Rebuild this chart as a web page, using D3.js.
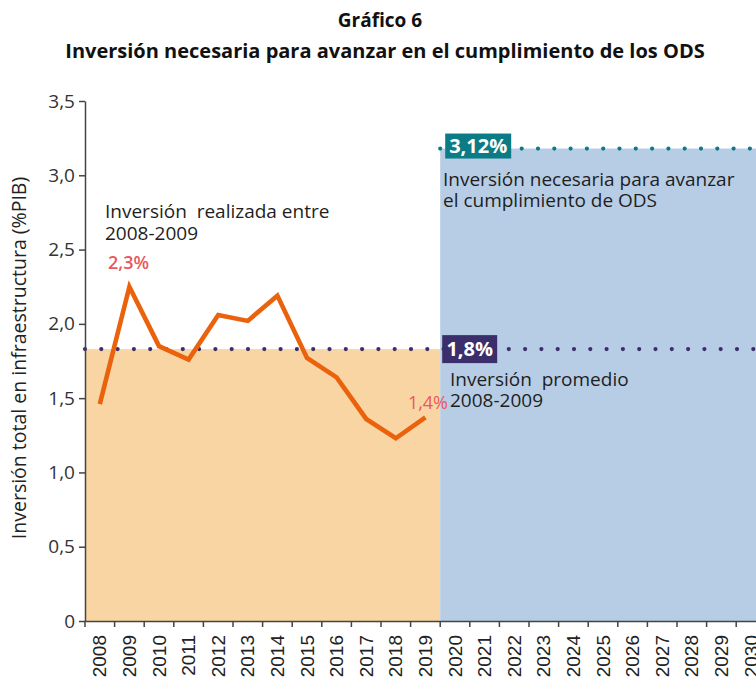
<!DOCTYPE html>
<html>
<head>
<meta charset="utf-8">
<script src="https://cdn.jsdelivr.net/npm/d3@7"></script>
<style>
  body { margin: 0; background: #fff; }
  svg { display: block; }
</style>
</head>
<body>
<svg id="chart" width="756" height="682"></svg>
<script>
// categories (x axis)
var years = ["2008", "2009", "2010", "2011", "2012", "2013", "2014", "2015",
             "2016", "2017", "2018", "2019", "2020", "2021", "2022", "2023",
             "2024", "2025", "2026", "2027", "2028", "2029", "2030"];
// observed investment 2008-2019 (% PIB)
var histYears = ["2008", "2009", "2010", "2011", "2012", "2013", "2014", "2015",
                 "2016", "2017", "2018", "2019"];
var investment = [1.46, 2.25, 1.85, 1.76, 2.06, 2.02, 2.19, 1.77, 1.64, 1.36, 1.23, 1.37];
// reference levels
var averageValue = 1.83;
var averageLabel = "1,8%";
var neededValue = 3.18;
var neededLabel = "3,12%";
var futureYears = ["2020", "2030"];
// y ticks
var yTicks = [0, 0.5, 1, 1.5, 2, 2.5, 3, 3.5];
var yTickLabels = ["0", "0,5", "1,0", "1,5", "2,0", "2,5", "3,0", "3,5"];

var svg = d3.select("#chart");
var font = "'Open Sans', 'Noto Sans', sans-serif";

var x = d3.scaleBand()
  .domain(years)
  .range([85, 85 + 23 * 29.6])
  .padding(0);
var y = d3.scaleLinear()
  .domain([0, 3.5])
  .range([621, 101]);

// title
svg.append("text")
  .attr("x", 380).attr("y", 27)
  .attr("text-anchor", "middle")
  .style("font-family", font).style("font-weight", "bold").style("font-size", "19px")
  .attr("fill", "#111")
  .text("Gráfico 6");
svg.append("text")
  .attr("x", 385).attr("y", 58)
  .attr("text-anchor", "middle")
  .style("font-family", font).style("font-weight", "bold").style("font-size", "20px")
  .attr("fill", "#111")
  .text("Inversión necesaria para avanzar en el cumplimiento de los ODS");

// shaded areas
svg.append("rect")
  .attr("x", x(histYears[0]))
  .attr("y", y(averageValue))
  .attr("width", x(futureYears[0]) - x(histYears[0]))
  .attr("height", y(0) - y(averageValue))
  .attr("fill", "#f9d5a4");
svg.append("rect")
  .attr("x", x(futureYears[0]))
  .attr("y", y(neededValue))
  .attr("width", x(futureYears[1]) + x.bandwidth() - x(futureYears[0]))
  .attr("height", y(0) - y(neededValue))
  .attr("fill", "#b7cde6");

// dotted reference lines
svg.append("line")
  .attr("x1", x(histYears[0])).attr("x2", 770)
  .attr("y1", y(averageValue)).attr("y2", y(averageValue))
  .attr("stroke", "#3b2f6b").attr("stroke-width", 4.2)
  .attr("stroke-linecap", "round").attr("stroke-dasharray", "0 16.3");
svg.append("line")
  .attr("x1", x(futureYears[0])).attr("x2", 770)
  .attr("y1", y(neededValue)).attr("y2", y(neededValue))
  .attr("stroke", "#0b7c86").attr("stroke-width", 4.2)
  .attr("stroke-linecap", "round").attr("stroke-dasharray", "0 16.3");

// investment line
var line = d3.line()
  .x(function(d, i) { return x(histYears[i]) + x.bandwidth() / 2; })
  .y(function(d) { return y(d); });
svg.append("path")
  .datum(investment)
  .attr("d", line)
  .attr("fill", "none")
  .attr("stroke", "#eb620d")
  .attr("stroke-width", 4.6)
  .attr("stroke-linejoin", "miter");

// y axis
var yAxis = d3.axisLeft(y)
  .tickValues(yTicks)
  .tickFormat(function(d, i) { return yTickLabels[i]; })
  .tickSize(6)
  .tickSizeOuter(0);
var gy = svg.append("g")
  .attr("transform", "translate(85,0)")
  .call(yAxis);
gy.select(".domain").attr("stroke", "#444").attr("stroke-width", 1.5);
gy.selectAll(".tick line").attr("stroke", "#444").attr("stroke-width", 1.5);
gy.selectAll(".tick text")
  .attr("x", -10)
  .style("font-family", font).style("font-size", "19px")
  .attr("fill", "#333");

// x axis: labels at band centers, tick marks at band edges
var xAxis = d3.axisBottom(x).tickSize(0).tickSizeOuter(0);
var gx = svg.append("g")
  .attr("transform", "translate(0,621)")
  .call(xAxis);
gx.select(".domain").attr("stroke", "#444").attr("stroke-width", 1.5);
gx.selectAll(".tick text")
  .attr("transform", "rotate(-90)")
  .attr("x", -14).attr("y", 0).attr("dy", "0.35em")
  .attr("text-anchor", "end")
  .style("font-family", "'Liberation Sans', Arial, sans-serif").style("font-size", "19px")
  .attr("fill", "#222");
gx.selectAll(".edge")
  .data(years)
  .enter().append("line")
  .attr("class", "edge")
  .attr("x1", function(d) { return x(d); })
  .attr("x2", function(d) { return x(d); })
  .attr("y1", 0).attr("y2", 6)
  .attr("stroke", "#444").attr("stroke-width", 1.5);

// y axis title
svg.append("text")
  .attr("transform", "translate(26,358) rotate(-90)")
  .attr("text-anchor", "middle")
  .style("font-family", font).style("font-size", "19.5px")
  .attr("fill", "#222")
  .text("Inversión total en infraestructura (%PIB)");

// annotations
function multiline(xp, yp, lines, lh) {
  var t = svg.append("text")
    .attr("x", xp).attr("y", yp)
    .style("font-family", font).style("font-size", "19px")
    .attr("fill", "#1e1e1e")
    .attr("xml:space", "preserve");
  lines.forEach(function(s, i) {
    t.append("tspan").attr("x", xp).attr("y", yp + i * lh).text(s);
  });
}
multiline(105, 218, ["Inversión  realizada entre", "2008-2009"], 22);
multiline(443, 186, ["Inversión necesaria para avanzar", "el cumplimiento de ODS"], 21);
multiline(450, 386, ["Inversión  promedio", "2008-2009"], 21);

// value labels on the line
svg.append("text")
  .attr("x", 108).attr("y", 269)
  .style("font-family", font).style("font-weight", "600").style("font-size", "18px")
  .attr("fill", "#e9585b")
  .text("2,3%");
svg.append("text")
  .attr("x", 448).attr("y", 409)
  .attr("text-anchor", "end")
  .style("font-family", font).style("font-size", "18px")
  .attr("fill", "#e9585b")
  .text("1,4%");

// boxed value labels
function boxLabel(xp, yp, w, h, color, label) {
  svg.append("rect")
    .attr("x", xp).attr("y", yp).attr("width", w).attr("height", h)
    .attr("fill", color);
  svg.append("text")
    .attr("x", xp + w / 2).attr("y", yp + h / 2).attr("dy", "0.36em")
    .attr("text-anchor", "middle")
    .style("font-family", font).style("font-weight", "bold").style("font-size", "20px")
    .attr("fill", "#fff")
    .text(label);
}
boxLabel(x(futureYears[0]) + 5, y(neededValue) - 15, 66, 25, "#0b7c86", neededLabel);
boxLabel(x(futureYears[0]) + 2, y(averageValue) - 14, 55, 28, "#3b2f6b", averageLabel);
</script>
</body>
</html>
